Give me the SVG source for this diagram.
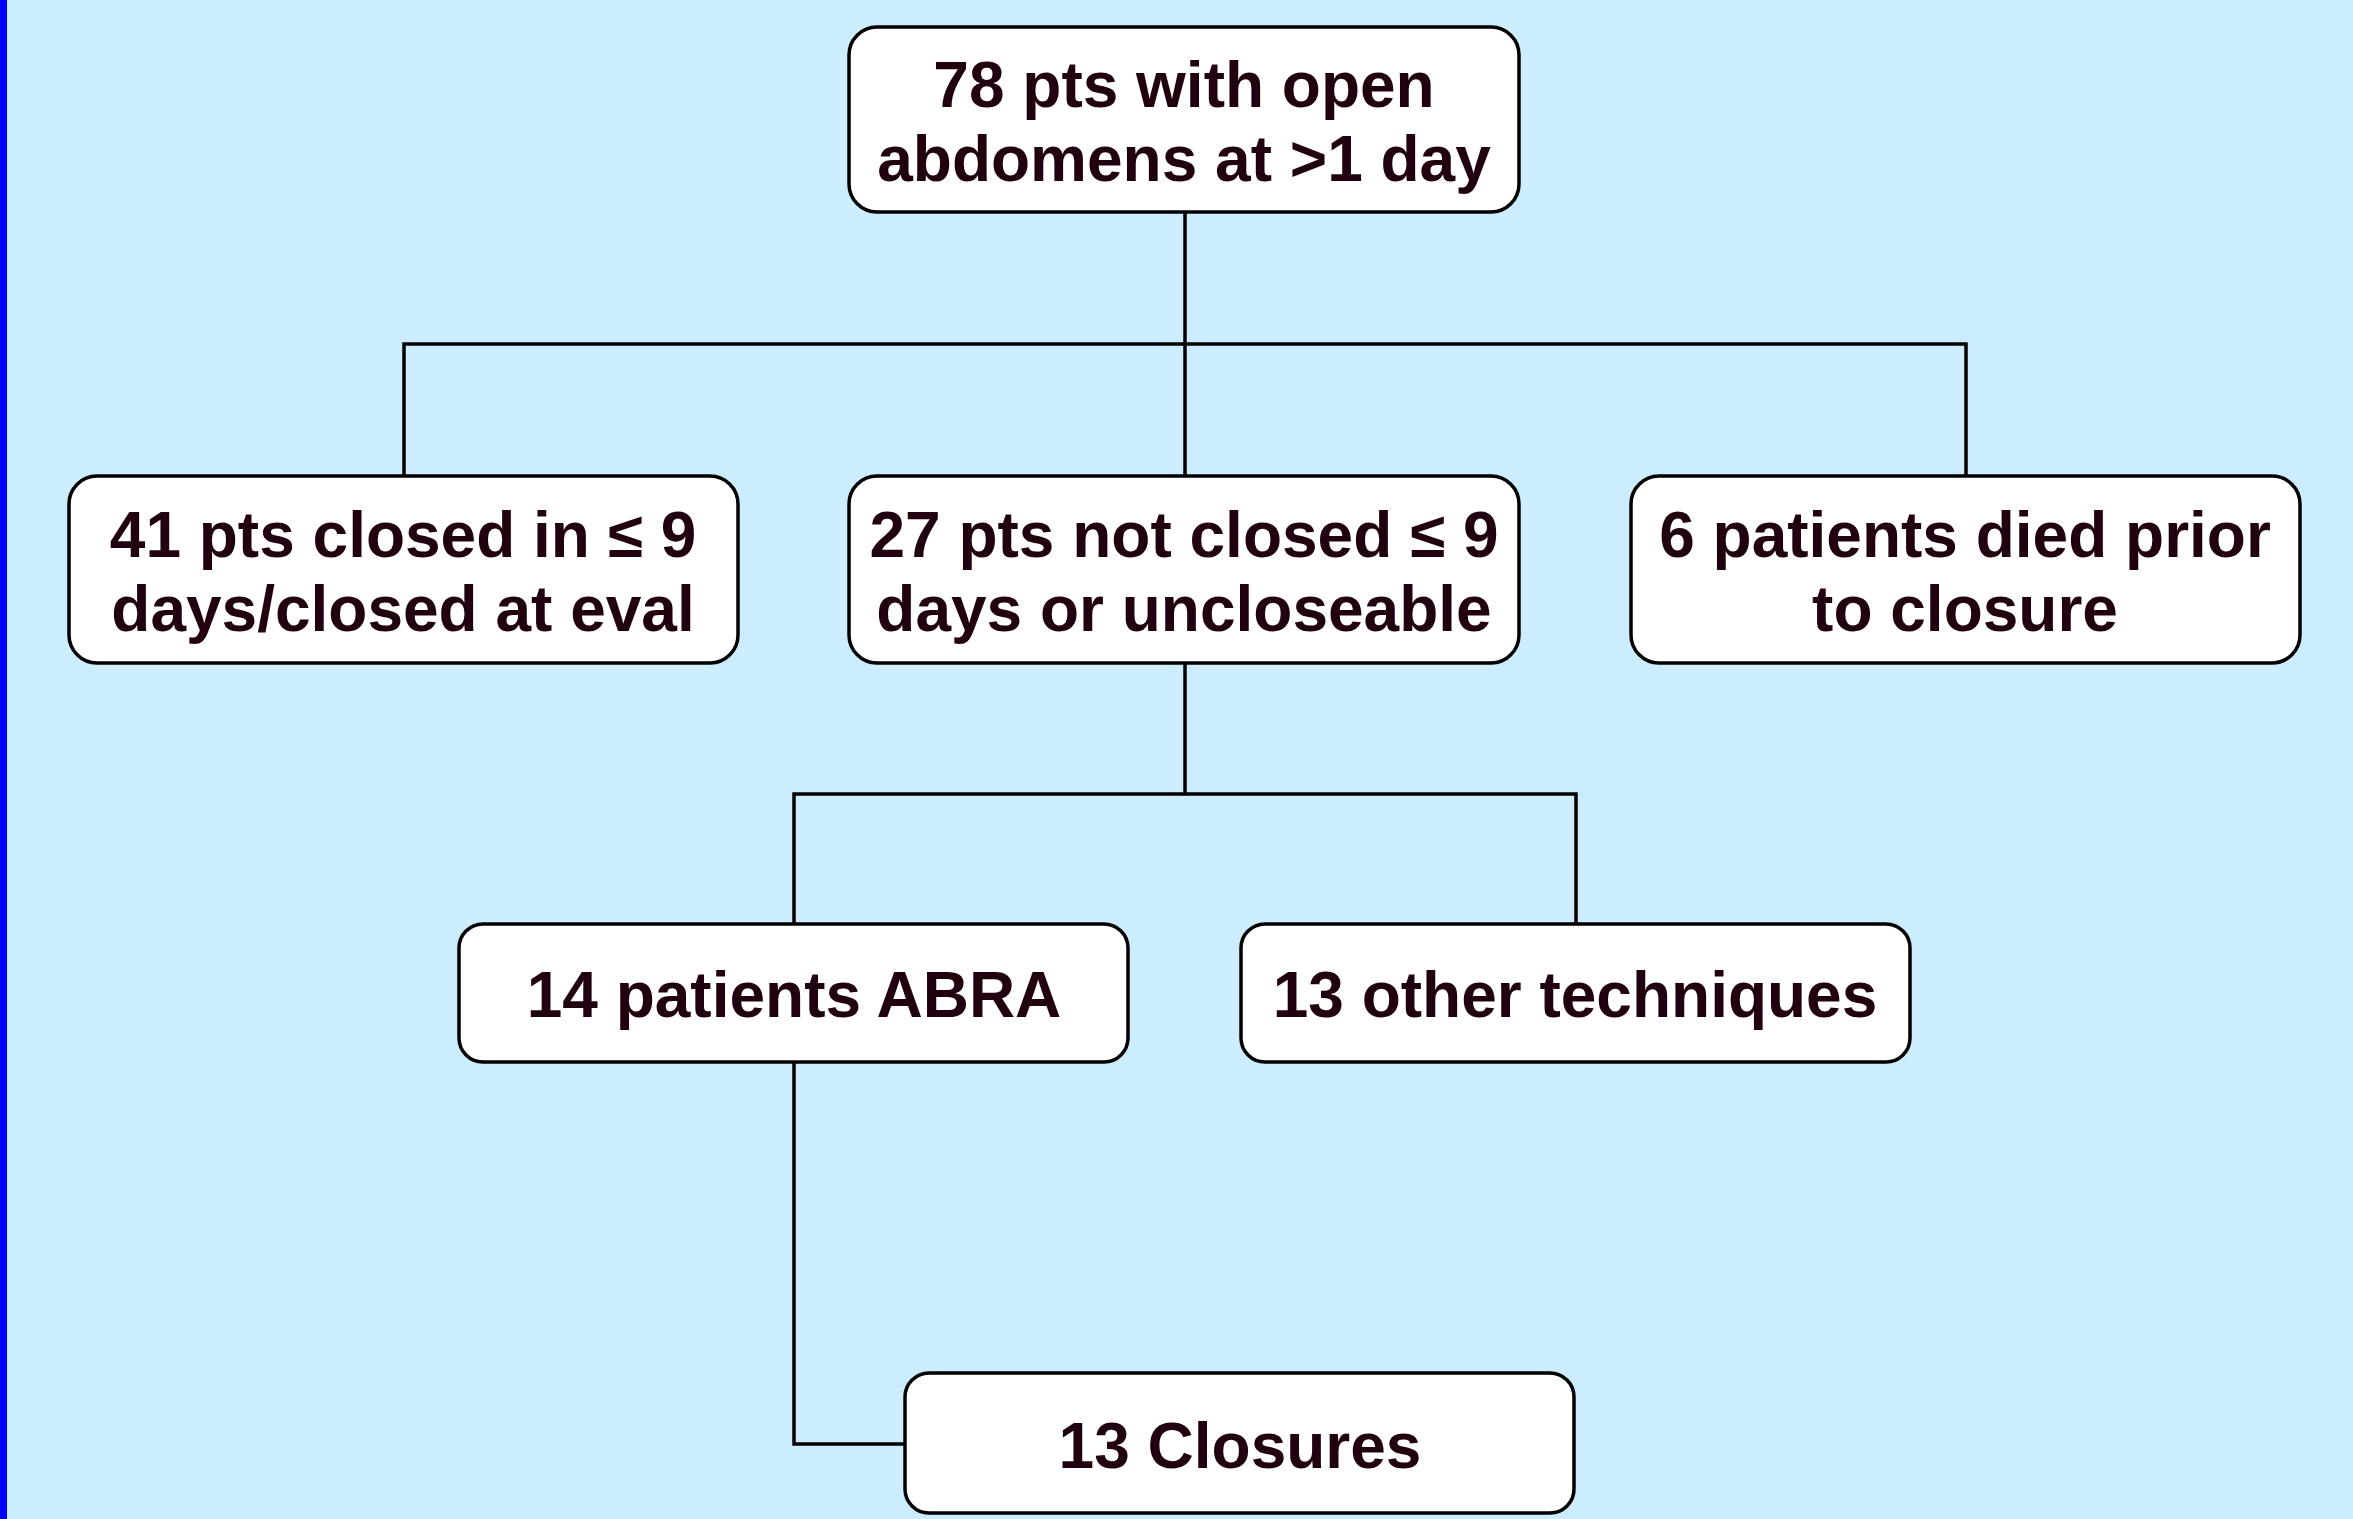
<svg xmlns="http://www.w3.org/2000/svg" width="2353" height="1519" viewBox="0 0 2353 1519">
<style>
.box{fill:#ffffff;stroke:#000000;stroke-width:3.5}
.t{font-family:"Liberation Sans",Arial,sans-serif;font-weight:bold;font-size:64px;fill:#210010;text-anchor:middle}
.c{fill:none;stroke:#000000;stroke-width:3.5}
</style>
<rect x="0" y="0" width="2353" height="1519" fill="#CCECFF"/>
<rect x="0" y="0" width="7" height="1519" fill="#0000FF"/>
<g id="connectors">
<path class="c" d="M1185 212 V476"/>
<path class="c" d="M404 476 V344 H1966 V476"/>
<path class="c" d="M1185 663 V794"/>
<path class="c" d="M794 924 V794 H1576 V924"/>
<path class="c" d="M794 1062 V1444 H905"/>
</g>
<g id="n1">
<rect class="box" x="849" y="27" width="670" height="185" rx="28"/>
<text class="t" x="1184" y="107">78 pts with open</text>
<text class="t" x="1184" y="181">abdomens at &gt;1 day</text>
</g>
<g id="n2">
<rect class="box" x="69" y="476" width="669" height="187" rx="28"/>
<text class="t" x="403" y="557">41 pts closed in ≤ 9</text>
<text class="t" x="403" y="631">days/closed at eval</text>
</g>
<g id="n3">
<rect class="box" x="849" y="476" width="670" height="187" rx="28"/>
<text class="t" x="1184" y="557">27 pts not closed ≤ 9</text>
<text class="t" x="1184" y="631">days or uncloseable</text>
</g>
<g id="n4">
<rect class="box" x="1631" y="476" width="669" height="187" rx="28"/>
<text class="t" x="1965" y="557">6 patients died prior</text>
<text class="t" x="1965" y="631">to closure</text>
</g>
<g id="n5">
<rect class="box" x="459" y="924" width="669" height="138" rx="24"/>
<text class="t" x="794" y="1017">14 patients ABRA</text>
</g>
<g id="n6">
<rect class="box" x="1241" y="924" width="669" height="138" rx="24"/>
<text class="t" x="1575" y="1017">13 other techniques</text>
</g>
<g id="n7">
<rect class="box" x="905" y="1373" width="669" height="140" rx="24"/>
<text class="t" x="1240" y="1468">13 Closures</text>
</g>
</svg>
